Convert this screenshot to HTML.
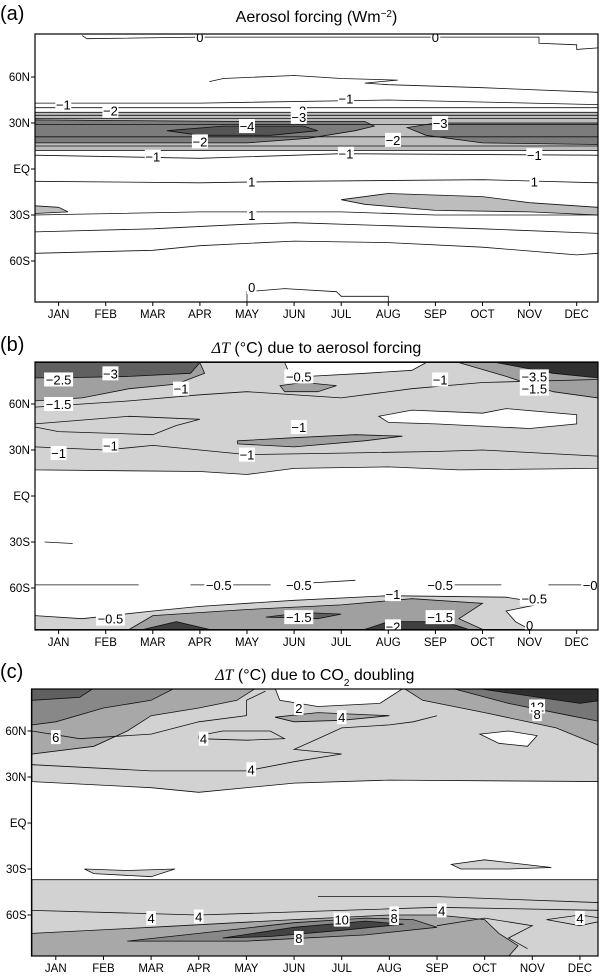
<!DOCTYPE html>
<html><head><meta charset="utf-8">
<style>
html,body{margin:0;padding:0;background:#fff;}
svg{display:block;font-family:"Liberation Sans",sans-serif;}
</style></head>
<body>
<svg id="fig" width="600" height="977" viewBox="0 0 600 977" xmlns="http://www.w3.org/2000/svg"></svg>
<script>
// ---- data ----
const months = ["JAN","FEB","MAR","APR","MAY","JUN","JUL","AUG","SEP","OCT","NOV","DEC"];
const latTicks = [60,30,0,-30,-60];
const latTickLabels = ["60N","30N","EQ","30S","60S"];

// Panel A (aerosol forcing) regions: [fill, points [month, lat]]
const aRegions = [
 ["#bdbdbd",[[-0.5,37],[11.45,37],[11.45,12],[-0.5,12]]],
 ["#7c7c7c",[[-0.5,32],[4,31],[6.5,31],[6.7,28],[6.3,25],[5.3,20],[4,17],[-0.5,17]]],
 ["#7c7c7c",[[7.4,27],[8,30],[11.45,30],[11.45,16],[9,17],[7.8,22]]],
 ["#555555",[[2.3,25],[3.5,28],[5.2,28],[5.5,25],[4.5,22],[3,22]]],
 ["#bdbdbd",[[6,-20],[7,-16],[9,-18],[10,-22],[11.45,-25],[11.45,-30],[10,-28],[8,-27],[6.5,-23]]],
 ["#bdbdbd",[[-0.5,-24],[0,-25],[0.2,-28],[-0.5,-29]]]
];
const aLines = [
 [[-0.5,43],[3,43],[7,45],[11.45,42]],
 [[-0.5,40],[11.45,40]],[[-0.5,35],[11.45,35]],[[-0.5,33],[11.45,33]],
 [[-0.5,29],[11.45,29]],[[-0.5,21],[11.45,21]],[[-0.5,15],[11.45,15]],
 [[-0.5,9],[3,7],[6,10],[11.45,9]],
 [[3.2,57],[3.5,59],[5,61],[6,59],[7.2,58],[6.5,56],[7,55],[9,53],[11.45,50]],
 [[-0.5,-8],[3,-9],[5,-8],[9,-7],[11.45,-9]],
 [[-0.5,-30],[3,-28],[6,-28],[8,-30],[11.45,-30]],
 [[-0.5,-41],[2,-39],[4,-36],[5,-35],[7,-37],[9,-39],[11.45,-42]],
 [[-0.5,-55],[2,-53],[3,-50],[5,-47],[7,-48],[9,-51],[11,-56],[11.45,-55]],
 [[0.5,87],[0.6,85],[3,86],[6,86],[8,86],[9,86],[10.2,86],[10.2,82],[11,81],[11,78],[11.45,79]],
 [[4,-87],[4,-80],[4.8,-78],[5.9,-80],[6,-83],[7,-83],[7,-87]]
];
const aLabels = [[0.1,42,"\u22121"],[1.1,38,"\u22122"],[4,28,"\u22124"],[5.1,38,"\u22122"],[5.1,34,"\u22123"],[3,18,"\u22122"],[8.1,30,"\u22123"],[7.1,19,"\u22122"],[2,8,"\u22121"],[6.1,10,"\u22121"],[10.1,9,"\u22121"],[6.1,46,"\u22121"],[4.1,-8,"1"],[10.1,-8,"1"],[4.1,-30,"1"],[4.1,-77,"0"],[3,86,"0"],[8,86,"0"]];

// Panel B
const bRegions = [
 ["#d2d2d2",[[-0.5,17],[3,16],[4,14],[5,18],[7,19],[8.5,17],[11.45,18],[11.45,87],[-0.5,87]]],
 ["#ffffff",[[6.8,52],[7.5,56],[9,54],[9.5,57],[11,53],[11,47],[10,44],[8,47],[7,48]]],
 ["#ffffff",[[4.8,87],[4.9,80],[5.3,78],[6.5,80],[7.5,82],[7.8,87]]],
 ["#a0a0a0",[[-0.5,87],[3,87],[3.1,80],[2.5,73],[1.5,70],[0.5,64],[-0.5,62]]],
 ["#606060",[[-0.5,87],[3,87],[2.8,80],[1.5,78],[0,77],[-0.5,77]]],
 ["#a0a0a0",[[8.5,87],[11.45,87],[11.45,64],[10.5,68],[9.5,78]]],
 ["#303030",[[9.3,87],[11.45,87],[11.45,77],[10.5,80]]],
 ["#a0a0a0",[[3.8,36],[5,38],[6.3,40],[7.3,39],[6.5,36],[5,32],[3.8,34]]],
 ["#a0a0a0",[[4.7,72],[5.2,74],[5.9,72],[5.5,68],[4.8,68]]],
 ["#d2d2d2",[[-0.5,-87],[-0.5,-78],[0.5,-80],[2,-75],[3,-72],[5,-68],[7,-65],[9.5,-66],[10.3,-70],[9.5,-75],[9.7,-82],[10,-87]]],
 ["#a0a0a0",[[1.5,-87],[2,-78],[4,-74],[6,-71],[7.5,-67],[9,-70],[8.5,-80],[9,-87]]],
 ["#404040",[[6.5,-87],[7,-82],[8.2,-82],[8.7,-87]]],
 ["#404040",[[1.8,-87],[2.5,-82],[3.2,-87]]],
 ["#606060",[[4.4,-79],[5.2,-76],[6,-77],[5.5,-80]]]
];
const bLines = [
 [[-0.5,47],[1.5,52],[3,50],[2.5,46],[2,40],[0,42],[-0.5,45]],
 [[-0.5,32],[1,30],[2,33],[3,30],[4,27],[6,28],[8,29],[9,30],[11.45,26]],
 [[-0.5,58],[1.5,62],[3,66],[4,68],[6,64],[7.5,70],[9,74],[11.45,76]],
 [[-0.5,-58],[1.7,-58]],[[2.8,-58],[4.5,-58]],[[5.2,-57],[6.3,-55]],[[7.8,-58],[9.4,-58]],[[10.4,-58],[11.45,-58]],
 [[-0.3,-30],[0.3,-31]]
];
const bLabels = [[1.1,80,"\u22123"],[0,76,"\u22122.5"],[0,60,"\u22121.5"],[2.6,70,"\u22121"],[1.1,33,"\u22121"],[0,28,"\u22121"],[4,27,"\u22121"],[5.1,45,"\u22121"],[5.1,78,"\u22120.5"],[8.1,76,"\u22121"],[10.1,78,"\u22123.5"],[10.1,70,"\u22121.5"],[3.4,-58,"\u22120.5"],[5.1,-58,"\u22120.5"],[8.1,-58,"\u22120.5"],[11.4,-58,"\u22120.5"],[7.1,-64,"\u22121"],[10.1,-67,"\u22120.5"],[1.1,-80,"\u22120.5"],[5.1,-79,"\u22121.5"],[8.1,-79,"\u22121.5"],[7.1,-85,"\u22122"],[10,-84,"0"]];

// Panel C
const cRegions = [
 ["#d2d2d2",[[-0.5,27],[2,23],[3,20],[5,26],[7,28],[11.45,27],[11.45,88],[-0.5,88]]],
 ["#a8a8a8",[[-0.5,88],[4.2,88],[3.8,80],[3,75],[2,70],[1.5,60],[0.8,50],[-0.5,45]]],
 ["#888888",[[-0.5,88],[2.5,88],[2,80],[1,75],[0,66],[-0.5,64]]],
 ["#606060",[[-0.5,88],[0.8,88],[0.5,82],[-0.5,80]]],
 ["#ffffff",[[4.6,88],[4.7,80],[5.5,76],[6.8,78],[7.3,88]]],
 ["#a8a8a8",[[7.3,88],[7.7,80],[9,72],[10.5,62],[11.45,50],[11.45,88]]],
 ["#777777",[[8.3,88],[9.5,78],[10.8,70],[11.45,66],[11.45,88]]],
 ["#2e2e2e",[[8.8,88],[11,78],[11.45,80],[11.45,88]]],
 ["#ffffff",[[8.9,58],[9.5,60],[10.1,57],[9.9,50],[9.3,52]]],
 ["#a8a8a8",[[4.6,69],[5.5,72],[7,70],[6,67],[5,66]]],
 ["#d2d2d2",[[-0.5,-37],[11.45,-37],[11.45,-87],[-0.5,-87]]],
 ["#d2d2d2",[[8.3,-27],[9,-24],[10.4,-29],[9.5,-30],[8.5,-30]]],
 ["#d2d2d2",[[0.6,-30],[1.5,-31],[2.5,-30],[2,-35],[0.8,-33]]],
 ["#a8a8a8",[[-0.5,-72],[2,-68],[5,-63],[7,-60],[8,-60],[9,-63],[9.3,-72],[9.7,-80],[9.5,-87],[-0.5,-87]]],
 ["#888888",[[1.5,-77],[3,-72],[5,-65],[6.5,-62],[7.5,-63],[8,-68],[6.5,-73],[4,-77]]],
 ["#444444",[[3.5,-75],[5,-68],[6.5,-64],[7.3,-66],[6,-70],[4.5,-74]]]
];
const cLines = [
 [[-0.5,60],[0.5,55],[2,58],[3,66],[4,70],[4,80],[4.4,86]],
 [[-0.5,38],[2,34],[4,34],[5,40],[6,45],[5,48],[5.5,55],[6,62],[7,64],[7.5,66],[8,70]],
 [[3,57],[3.5,60],[4.5,60],[4.8,55],[4,54],[3,55],[3,57]],
 [[-0.5,-57],[3,-60],[6,-57],[8,-55],[11.45,-57]],
 [[10.3,-63],[11,-60],[11.45,-62]],[[10.3,-63],[11,-67],[11.45,-64]],
 [[8,-67],[9,-62],[10,-67],[9.5,-75],[9.9,-82]],
 [[5.5,-48],[8,-48],[11.45,-52]]
];
const cLabels = [[0,56,"6"],[3.1,55,"4"],[4.1,35,"4"],[5.1,75,"2"],[6,69,"4"],[10.1,76,"12"],[10.1,71,"8"],[2,-62,"4"],[3,-61,"4"],[6,-63,"10"],[7.1,-59,"8"],[7.1,-62,"8"],[8.1,-57,"4"],[11,-62,"4"],[5.1,-75,"8"]];

// ---- drawing ----
const NS = "http://www.w3.org/2000/svg";
const svg = document.getElementById("fig");
function mk(tag, attrs, parent){
  const e = document.createElementNS(NS, tag);
  for (const k in attrs) e.setAttribute(k, attrs[k]);
  (parent||svg).appendChild(e);
  return e;
}
const panels = [
 {id:"a", letter:"(a)", title:"Aerosol forcing (Wm<tspan baseline-shift='super' font-size='10'>\u22122</tspan>)", titleY:22, left:35, right:598, top:34, bottom:302, x0:58.6, dx:47.1, yEq:169, k:46/30, regions:aRegions, lines:aLines, labels:aLabels},
 {id:"b", letter:"(b)", title:"<tspan font-family='Liberation Serif' font-style='italic'>\u0394T</tspan> (\u00b0C) due to aerosol forcing", titleY:353, left:35, right:598, top:362, bottom:630, x0:58.6, dx:47.1, yEq:496, k:46/30, regions:bRegions, lines:bLines, labels:bLabels},
 {id:"c", letter:"(c)", title:"<tspan font-family='Liberation Serif' font-style='italic'>\u0394T</tspan> (\u00b0C) due to CO<tspan baseline-shift='sub' font-size='10'>2</tspan> doubling", titleY:680, left:31.5, right:598, top:689, bottom:956, x0:55.8, dx:47.65, yEq:823, k:46/30, regions:cRegions, lines:cLines, labels:cLabels}
];
panels.forEach(p=>{
  const X = m => p.x0 + p.dx*m;
  const Y = lat => p.yEq - lat*p.k;
  const g = mk("g",{});
  
  
  const clipId = "clip"+p.id;
  const cp = mk("clipPath",{id:clipId},g);
  mk("rect",{x:p.left,y:p.top,width:p.right-p.left,height:p.bottom-p.top},cp);
  const plot = mk("g",{"clip-path":"url(#"+clipId+")"},g);
  
  
  p.regions.forEach(r=>{
    const poly = mk("polygon",{points:r[1].map(q=>X(q[0]).toFixed(1)+","+Y(q[1]).toFixed(1)).join(" "), fill:r[0], stroke:"#111","stroke-width":0.8},plot);
    
    
  });
  p.lines.forEach(l=>{
    const pl = mk("polyline",{points:l.map(q=>X(q[0]).toFixed(1)+","+Y(q[1]).toFixed(1)).join(" "), fill:"none", stroke:"#111","stroke-width":0.8},plot);
    
    
  });
  p.labels.forEach(lb=>{
    const w = lb[2].length*6.5+3;
    const r = mk("rect",{x:X(lb[0])-w/2,y:Y(lb[1])-7,width:w,height:14,fill:"#fff"},plot);
    
    
    const t = mk("text",{x:X(lb[0]),y:Y(lb[1])+5,"font-size":13,"text-anchor":"middle",fill:"#000"},plot);
    t.textContent = lb[2];
    
    
  });
  const fr = mk("rect",{x:p.left,y:p.top,width:p.right-p.left,height:p.bottom-p.top,fill:"none",stroke:"#000","stroke-width":1.2},g);
  
  
  months.forEach((mo,i)=>{
    mk("line",{x1:X(i),x2:X(i),y1:p.bottom,y2:p.bottom+4,stroke:"#000"},g);
    const t = mk("text",{x:X(i),y:p.bottom+16,"font-size":11.5,"text-anchor":"middle",fill:"#000"},g);
    t.textContent = mo;
    
    
  });
  latTicks.forEach((lat,i)=>{
    mk("line",{x1:p.left-4,x2:p.left,y1:Y(lat),y2:Y(lat),stroke:"#000"},g);
    const t = mk("text",{x:p.left-5,y:Y(lat)+4,"font-size":11.5,"text-anchor":"end",fill:"#000"},g);
    t.textContent = latTickLabels[i];
    
    
  });
  const lt = mk("text",{x:0,y:p.titleY-2,"font-size":20,fill:"#000"},g);
  lt.textContent = p.letter;
  
  
  const tt = mk("text",{x:(p.left+p.right)/2,y:p.titleY,"font-size":16,"text-anchor":"middle",fill:"#000"},g);
  tt.innerHTML = p.title;
  
  
});
</script>
</body></html>
